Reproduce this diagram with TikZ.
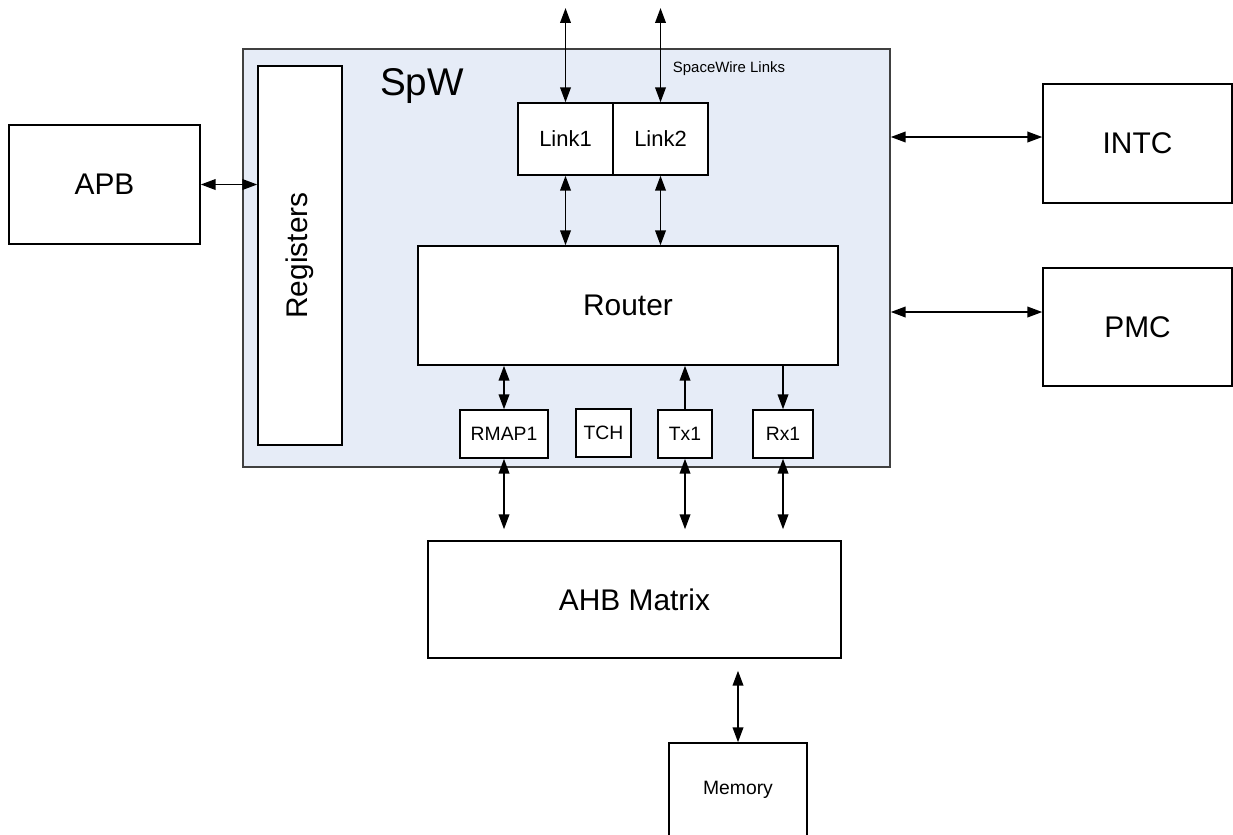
\documentclass[tikz,border=0pt]{standalone}
\usepackage{fontspec}
\setmainfont{Liberation Sans}
\usetikzlibrary{arrows.meta}
\definecolor{spwblue}{RGB}{230,236,247}

\begin{document}
\begin{tikzpicture}[>={Triangle[length=8.5pt,width=6pt]},
  blk/.style={draw,fill=white,line width=0.8pt,inner sep=0pt},
  con/.style={<->,line width=1.1pt},
  big/.style={font=\fontsize{17}{20}\selectfont},
  mid/.style={font=\fontsize{12.5}{15}\selectfont},
  sml/.style={font=\fontsize{11}{13}\selectfont}]
\clip (0,0) rectangle (24.66,-16.68);
% SpW block
\node[draw=black!75,fill=spwblue,line width=0.8pt,minimum width=12.94cm,minimum height=8.36cm] (SpW) at (11.33,-5.16) {};
\node[font=\fontsize{22}{26}\selectfont] (SpWlbl) at (8.44,-1.72) {SpW};
\node[font=\fontsize{8.5}{10}\selectfont] (Links) at (14.58,-1.38) {SpaceWire Links};
\node[blk,minimum width=1.68cm,minimum height=7.58cm] (Reg) at (6.0,-5.11) {};
\node[big,rotate=90] (Reglbl) at (Reg) {Registers};
\node[blk,mid,minimum width=1.9cm,minimum height=1.44cm] (L1) at (11.31,-2.78) {Link1};
\node[blk,mid,minimum width=1.9cm,minimum height=1.44cm] (L2) at (13.21,-2.78) {Link2};
\node[blk,big,minimum width=8.4cm,minimum height=2.38cm] (Router) at (12.56,-6.11) {Router};
\node[blk,sml,minimum width=1.76cm,minimum height=0.96cm] (RMAP1) at (10.08,-8.68) {RMAP1};
\node[blk,sml,minimum width=1.1cm,minimum height=0.96cm] (TCH) at (12.07,-8.66) {TCH};
\node[blk,sml,minimum width=1.08cm,minimum height=0.96cm] (Tx1) at (13.70,-8.68) {Tx1};
\node[blk,sml,minimum width=1.2cm,minimum height=0.96cm] (Rx1) at (15.66,-8.68) {Rx1};
% outside blocks
\node[blk,big,minimum width=3.82cm,minimum height=2.38cm] (APB) at (2.09,-3.69) {APB};
\node[blk,big,minimum width=3.78cm,minimum height=2.38cm] (INTC) at (22.75,-2.87) {INTC};
\node[blk,big,minimum width=3.78cm,minimum height=2.36cm] (PMC) at (22.75,-6.54) {PMC};
\node[blk,big,minimum width=8.26cm,minimum height=2.34cm] (AHB) at (12.69,-11.99) {AHB Matrix};
\node[blk,sml,minimum width=2.76cm,minimum height=1.88cm] (Mem) at (14.76,-15.8) {Memory};
\coordinate (T1) at (11.31,-0.16);
\coordinate (T2) at (13.21,-0.16);
% connectors
\draw[con] (T1) -- (L1.north);
\draw[con] (T2) -- (L2.north);
\draw[con] (L1.south) -- (L1.south |- Router.north);
\draw[con] (L2.south) -- (L2.south |- Router.north);
\draw[con] (RMAP1.north) -- (RMAP1.north |- Router.south);
\draw[->,line width=1.1pt] (Tx1.north) -- (Tx1.north |- Router.south);
\draw[->,line width=1.1pt] (Rx1.north |- Router.south) -- (Rx1.north);
\draw[con,shorten >=0.22cm] (RMAP1.south) -- (RMAP1.south |- AHB.north);
\draw[con,shorten >=0.22cm] (Tx1.south) -- (Tx1.south |- AHB.north);
\draw[con,shorten >=0.22cm] (Rx1.south) -- (Rx1.south |- AHB.north);
\draw[con,shorten <=0.24cm] (Mem.north |- AHB.south) -- (Mem.north);
\draw[con] (APB.east) -- (APB.east -| Reg.west);
\draw[con] ([yshift=0.13cm]INTC.west -| SpW.east) -- ([yshift=0.13cm]INTC.west);
\draw[con] ([yshift=0.3cm]PMC.west -| SpW.east) -- ([yshift=0.3cm]PMC.west);
\end{tikzpicture}
\end{document}
